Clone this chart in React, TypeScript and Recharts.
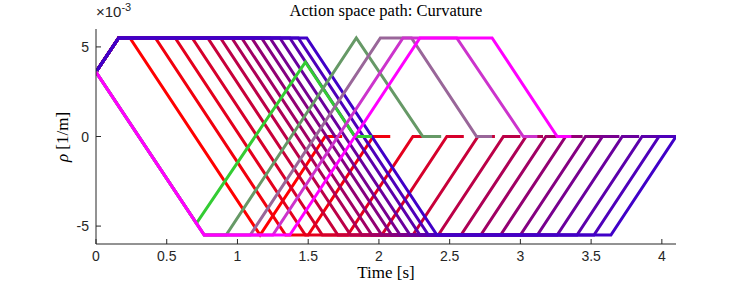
import React from 'react';
import { LineChart, Line, XAxis, YAxis } from 'recharts';

/* ── Data (time in s, curvature in 1e-3 1/m) ─────── */
const X_TICKS = [0, 0.5, 1, 1.5, 2, 2.5, 3, 3.5, 4];
const Y_TICKS = [-5, 0, 5];

// red -> blue family: turn down from +max at different times
const FAMILY_PATHS: [number, number][][] = [
    [[0, 3.6], [0.16, 5.5], [0.24, 5.5], [1.16, -5.5], [1.62, 0], [1.74, 0]],
    [[0, 3.6], [0.16, 5.5], [0.42, 5.5], [1.34, -5.5], [1.5, -5.5], [1.96, 0], [2.08, 0]],
    [[0, 3.6], [0.16, 5.5], [0.56, 5.5], [1.48, -5.5], [1.78, -5.5], [2.24, 0], [2.36, 0]],
    [[0, 3.6], [0.16, 5.5], [0.68, 5.5], [1.6, -5.5], [2.02, -5.5], [2.48, 0], [2.6, 0]],
    [[0, 3.6], [0.16, 5.5], [0.79, 5.5], [1.71, -5.5], [2.24, -5.5], [2.7, 0], [2.82, 0]],
    [[0, 3.6], [0.16, 5.5], [0.88, 5.5], [1.8, -5.5], [2.42, -5.5], [2.88, 0], [3.0, 0]],
    [[0, 3.6], [0.16, 5.5], [0.96, 5.5], [1.88, -5.5], [2.58, -5.5], [3.04, 0], [3.16, 0]],
    [[0, 3.6], [0.16, 5.5], [1.03, 5.5], [1.95, -5.5], [2.72, -5.5], [3.18, 0], [3.3, 0]],
    [[0, 3.6], [0.16, 5.5], [1.1, 5.5], [2.02, -5.5], [2.86, -5.5], [3.32, 0], [3.44, 0]],
    [[0, 3.6], [0.16, 5.5], [1.17, 5.5], [2.09, -5.5], [3.0, -5.5], [3.46, 0], [3.58, 0]],
    [[0, 3.6], [0.16, 5.5], [1.23, 5.5], [2.15, -5.5], [3.12, -5.5], [3.58, 0], [3.7, 0]],
    [[0, 3.6], [0.16, 5.5], [1.3, 5.5], [2.22, -5.5], [3.26, -5.5], [3.72, 0], [3.84, 0]],
    [[0, 3.6], [0.16, 5.5], [1.37, 5.5], [2.29, -5.5], [3.4, -5.5], [3.86, 0], [3.98, 0]],
    [[0, 3.6], [0.16, 5.5], [1.43, 5.5], [2.35, -5.5], [3.52, -5.5], [3.98, 0], [4.1, 0]],
    [[0, 3.6], [0.16, 5.5], [1.49, 5.5], [2.41, -5.5], [3.64, -5.5], [4.1, 0]],
];
const FAMILY_COLORS = [
    '#ff0000', '#f1000e', '#e4001d', '#d6002b', '#c80039', '#bb0047', '#ad0056', '#a00064',
    '#920072', '#840081', '#77008f', '#69009d', '#5b00ab', '#4e00ba', '#4000c8',
];

// green -> magenta family: turn up from the lower side
const SIDE_PATHS: [number, number][][] = [
    [[0, 3.6], [0.71, -4.85], [1.48, 4.15], [1.83, 0], [1.95, 0]],
    [[0, 3.6], [0.765, -5.5], [0.92, -5.5], [1.84, 5.5], [2.31, 0], [2.44, 0]],
    [[0, 3.6], [0.765, -5.5], [1.09, -5.5], [2.01, 5.5], [2.23, 5.5], [2.69, 0], [2.8, 0]],
    [[0, 3.6], [0.765, -5.5], [1.25, -5.5], [2.17, 5.5], [2.55, 5.5], [3.02, 0], [3.12, 0]],
    [[0, 3.6], [0.765, -5.5], [1.37, -5.5], [2.29, 5.5], [2.8, 5.5], [3.26, 0], [3.36, 0]],
];
const SIDE_COLORS = ['#33cc33', '#669966', '#996699', '#cc33cc', '#ff00ff'];

/* ── Style ────────────────────────────────────────── */
const AXIS = '#262626';
const SANS = '"Liberation Sans", Arial, sans-serif';
const SERIF = '"Liberation Serif", "DejaVu Serif", serif';

const toRows = (path: [number, number][]) => path.map(([t, rho]) => ({ t, rho }));

const BottomTick = ({ x, y, payload }: any) => (
    <g>
        <line x1={x} x2={x} y1={y} y2={y - 5} stroke={AXIS} />
        <text x={x} y={y + 17} textAnchor="middle" fontSize={14} fontFamily={SANS} fill={AXIS}>
            {payload.value}
        </text>
    </g>
);
const TopTick = ({ x, y }: any) => <line x1={x} x2={x} y1={y} y2={y + 5} stroke={AXIS} />;
const LeftTick = ({ x, y, payload }: any) => (
    <g>
        <line x1={x} x2={x + 5} y1={y} y2={y} stroke={AXIS} />
        <text x={x - 7} y={y + 5} textAnchor="end" fontSize={14} fontFamily={SANS} fill={AXIS}>
            {payload.value}
        </text>
    </g>
);
const RightTick = ({ x, y }: any) => <line x1={x} x2={x - 5} y1={y} y2={y} stroke={AXIS} />;

const allLines = [
    ...FAMILY_PATHS.map((p, i) => ({ key: `f${i}`, data: toRows(p), color: FAMILY_COLORS[i] })),
    ...SIDE_PATHS.map((p, i) => ({ key: `s${i}`, data: toRows(p), color: SIDE_COLORS[i] })),
];

const App: React.FC = () => (
    <div style={{ position: 'absolute', left: 0, top: 0, width: 747, height: 299, background: '#fff' }}>
        <LineChart width={747} height={299} margin={{ top: 29, right: 71, bottom: 25, left: 56 }}>
            <XAxis
                xAxisId="b" type="number" dataKey="t" domain={[0, 4.1]} ticks={X_TICKS}
                allowDataOverflow height={30} tickSize={0} tickMargin={0}
                tick={<BottomTick />} tickLine={false} axisLine={{ stroke: AXIS }}
            />
            <XAxis
                xAxisId="t" orientation="top" type="number" dataKey="t" domain={[0, 4.1]} ticks={X_TICKS}
                allowDataOverflow height={0} tickSize={0} tickMargin={0}
                tick={<TopTick />} tickLine={false} axisLine={{ stroke: AXIS }}
            />
            <YAxis
                yAxisId="l" type="number" domain={[-6, 6]} ticks={Y_TICKS} allowDataOverflow
                width={40} tickSize={0} tickMargin={0}
                tick={<LeftTick />} tickLine={false} axisLine={{ stroke: AXIS }}
            />
            <YAxis
                yAxisId="r" orientation="right" type="number" domain={[-6, 6]} ticks={Y_TICKS} allowDataOverflow
                width={0} tickSize={0} tickMargin={0}
                tick={<RightTick />} tickLine={false} axisLine={{ stroke: AXIS }}
            />
            {allLines.map((l) => (
                <Line
                    key={l.key}
                    xAxisId="b"
                    yAxisId="l"
                    data={l.data}
                    dataKey="rho"
                    type="linear"
                    stroke={l.color}
                    strokeWidth={3}
                    dot={false}
                    activeDot={false}
                    isAnimationActive={false}
                />
            ))}
        </LineChart>
        <div style={{ position: 'absolute', left: 0, width: 772, top: 1, textAlign: 'center', fontFamily: SERIF, fontSize: 16.5, color: '#000' }}>
            Action space path: Curvature
        </div>
        <div style={{ position: 'absolute', left: 96, top: 1, fontFamily: SANS, fontSize: 15, color: AXIS }}>
            ×10<sup style={{ fontSize: 11 }}>-3</sup>
        </div>
        <div style={{ position: 'absolute', left: 0, width: 772, top: 265, lineHeight: '16px', textAlign: 'center', fontFamily: SERIF, fontSize: 17, color: '#000' }}>
            Time [s]
        </div>
        <div style={{ position: 'absolute', left: 63, top: 137, transform: 'translate(-50%, -50%) rotate(-90deg)', whiteSpace: 'nowrap', fontFamily: SERIF, fontSize: 17, color: '#000' }}>
            <i>ρ</i> [1/m]
        </div>
    </div>
);

export default App;
